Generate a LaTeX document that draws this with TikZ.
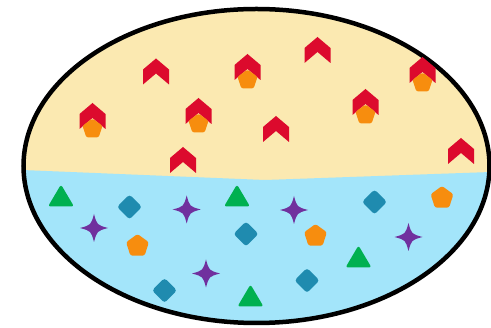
\documentclass[tikz,border=0pt]{standalone}
\definecolor{yel}{HTML}{FBE9B1}
\definecolor{sky}{HTML}{A3E5FA}
\definecolor{redc}{HTML}{DC0A2D}
\definecolor{orac}{HTML}{F78D0E}
\definecolor{grnc}{HTML}{00B050}
\definecolor{tealc}{HTML}{1F8BAF}
\definecolor{purc}{HTML}{70309E}
\tikzset{
  chev/.pic={\fill[redc] (0,0) -- (13,11) -- (13,26) -- (0,15) -- (-13,26) -- (-13,11) -- cycle;},
  pent/.pic={\fill[orac,rounded corners=2.2pt] (-90:#1) -- (-18:#1) -- (54:#1) -- (126:#1) -- (198:#1) -- cycle;},
  tri/.pic={\fill[grnc,rounded corners=2.5pt] (-13,0.5) -- (13,0.5) -- (0,-21.5) -- cycle;},
  diam/.pic={\fill[tealc,rounded corners=3pt] (0,-12.5) -- (12.5,0) -- (0,12.5) -- (-12.5,0) -- cycle;},
  star/.pic={\fill[purc] (0,-14) .. controls (3,-3) .. (14,0) .. controls (3,3) .. (0,14) .. controls (-3,3) .. (-14,0) .. controls (-3,-3) .. cycle;}
}
\begin{document}
\begin{tikzpicture}[x=1pt,y=-1pt]
\useasboundingbox (0,0) rectangle (491,328);
\begin{scope}
  \clip (256.5,166) ellipse [x radius=233, y radius=157];
  \fill[yel] (0,0) rectangle (491,328);
  \fill[sky] (0,170) -- (22,170) -- (265,180) -- (491,172) -- (491,328) -- (0,328) -- cycle;
\end{scope}
\draw[line width=4.5pt] (256.5,166) ellipse [x radius=233, y radius=157];
% chevrons
\foreach \x/\y in {156/58.5, 247.5/54, 92.5/103, 198.5/98, 183/147, 317.5/37, 422.5/57, 365.5/89, 276/116, 461/138}
  \pic at (\x,\y) {chev};
% small pentagons
\foreach \x/\y in {92.5/103, 198.5/98, 247.5/54, 365.5/89, 422.5/57}
  \pic at (\x,\y+26) {pent=10.5};
% big pentagons
\foreach \x/\y in {137.5/246, 442/198, 315.5/236}
  \pic at (\x,\y) {pent=12};
% triangles (base centre)
\foreach \x/\y in {61/206, 237/206, 250.5/306, 358.5/267}
  \pic at (\x,\y) {tri};
% diamonds
\foreach \x/\y in {129.5/207, 246/234, 164.5/290.5, 374.5/202, 307/280.5}
  \pic at (\x,\y) {diam};
% stars
\foreach \x/\y in {186.7/209.5, 94/228, 206/273.5, 294/210, 408.5/237}
  \pic at (\x,\y) {star};
\end{tikzpicture}
\end{document}
